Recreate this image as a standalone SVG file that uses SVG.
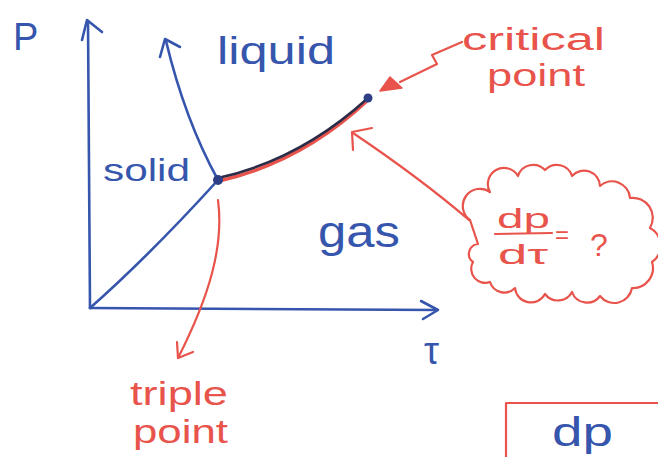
<svg xmlns="http://www.w3.org/2000/svg" width="658" height="457" viewBox="0 0 658 457">
<style>
.b{fill:none;stroke:#3656ad;stroke-width:2.6;stroke-linecap:round;stroke-linejoin:round}
.r{fill:none;stroke:#e8534b;stroke-width:2.2;stroke-linecap:round;stroke-linejoin:round}
.tb{fill:#3656ad;font-family:"Liberation Sans","DejaVu Sans",sans-serif}
.tr{fill:#e8534b;font-family:"Liberation Sans","DejaVu Sans",sans-serif}
</style>
<rect width="658" height="457" fill="#ffffff"/>
<g id="connectors">
  <path class="b" d="M90,308 L88,22"/>
  <path class="b" d="M82,40 L87,20 L102,32"/>
  <path class="b" d="M90,308 L437,310"/>
  <path class="b" d="M421,301 L438,310 L423,319"/>
  <path class="b" d="M90,308 Q150,255 218,180"/>
  <path class="b" d="M218,180 Q185,120 166,41"/>
  <path class="b" d="M160,57 L165,39 L180,47"/>
  <path d="M219,181 Q302,162 368,100" fill="none" stroke="#e8534b" stroke-width="3.5" stroke-linecap="round"/>
  <path d="M218,178 Q300,160 368,98" fill="none" stroke="#2b2d48" stroke-width="2.6" stroke-linecap="round"/>
  <path class="r" d="M462,42 L432,55 L437,64 L400,82"/>
  <path d="M380,91 L390,77 L402,88 Z" fill="#e8534b" stroke="#e8534b" stroke-width="1.5" stroke-linejoin="round"/>
  <path class="r" d="M469,220 Q420,178 353,133"/>
  <path class="r" d="M353,150 L352,132 L372,128"/>
  <path class="r" d="M218,200 C224,245 210,295 178,358"/>
  <path class="r" d="M177,342 L178,358 L193,352"/>
</g>
<g id="triple-point-dot"><circle cx="218" cy="180" r="5" fill="#2f3f85"/></g>
<g id="critical-point-dot"><circle cx="368" cy="98" r="4.5" fill="#2f3f85"/></g>
<g id="axis-p"><text class="tb" x="13" y="50" font-size="38">P</text></g>
<g id="axis-tau"><text class="tb" x="424" y="364" font-size="38">τ</text></g>
<g id="label-liquid"><text class="tb" x="217" y="64" font-size="38" textLength="118" lengthAdjust="spacingAndGlyphs">liquid</text></g>
<g id="label-solid"><text class="tb" x="103" y="181" font-size="32" textLength="87" lengthAdjust="spacingAndGlyphs">solid</text></g>
<g id="label-gas"><text class="tb" x="318" y="247" font-size="44" textLength="82" lengthAdjust="spacingAndGlyphs">gas</text></g>
<g id="label-critical-point">
  <text class="tr" x="462" y="50" font-size="31" textLength="143" lengthAdjust="spacingAndGlyphs">critical</text>
  <text class="tr" x="487" y="86" font-size="31" textLength="98" lengthAdjust="spacingAndGlyphs">point</text>
</g>
<g id="label-triple-point">
  <text class="tr" x="130" y="405" font-size="33" textLength="98" lengthAdjust="spacingAndGlyphs">triple</text>
  <text class="tr" x="133" y="443" font-size="33" textLength="95" lengthAdjust="spacingAndGlyphs">point</text>
</g>
<g id="cloud">
  <path class="r" d="M470,220 A16,16 0 0 1 490,192 A16,16 0 0 1 518,176 A16,16 0 0 1 545,170 A16,16 0 0 1 572,176 A16,16 0 0 1 600,186 A18,18 0 0 1 630,198 A20,20 0 0 1 650,228 A20,20 0 0 1 652,262 A20,20 0 0 1 632,288 A18,18 0 0 1 600,296 A16,16 0 0 1 572,292 A16,16 0 0 1 545,294 A16,16 0 0 1 515,288 A15,15 0 0 1 490,282 A14,14 0 0 1 473,262 A10,10 0 0 1 478,244 L470,220 Z"/>
  <text class="tr" x="497" y="228" font-size="28" textLength="53" lengthAdjust="spacingAndGlyphs">dp</text>
  <path class="r" d="M495,234 L552,233"/>
  <text class="tr" x="498" y="264" font-size="28" textLength="50" lengthAdjust="spacingAndGlyphs">dτ</text>
  <text class="tr" x="555" y="243" font-size="24">=</text>
  <text class="tr" x="590" y="256" font-size="32">?</text>
</g>
<g id="box">
  <path class="r" d="M506,457 L506,403 L658,403"/>
  <text class="tb" x="552" y="446" font-size="40" textLength="61" lengthAdjust="spacingAndGlyphs">dp</text>
</g>
</svg>
